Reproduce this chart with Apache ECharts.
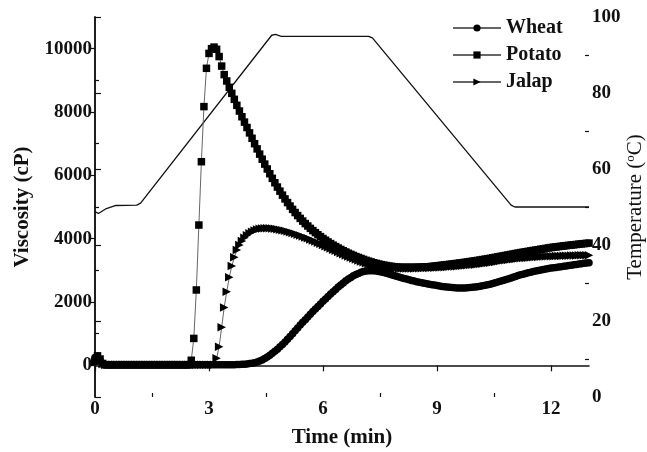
<!DOCTYPE html>
<html><head><meta charset="utf-8">
<script src="https://cdn.jsdelivr.net/npm/echarts@6/dist/echarts.min.js"></script>
<style>html,body{margin:0;padding:0;background:#fff}#c{width:647px;height:452px}</style>
</head><body><div id="c"></div>
<script>
// sampling times (seconds), one reading every 4 s
const timeSec = [
0,4,8,12,16,20,24,28,32,36,40,44,48,52,56,
60,64,68,72,76,80,84,88,92,96,100,104,108,112,116,
120,124,128,132,136,140,144,148,152,156,160,164,168,172,176,
180,184,188,192,196,200,204,208,212,216,220,224,228,232,236,
240,244,248,252,256,260,264,268,272,276,280,284,288,292,296,
300,304,308,312,316,320,324,328,332,336,340,344,348,352,356,
360,364,368,372,376,380,384,388,392,396,400,404,408,412,416,
420,424,428,432,436,440,444,448,452,456,460,464,468,472,476,
480,484,488,492,496,500,504,508,512,516,520,524,528,532,536,
540,544,548,552,556,560,564,568,572,576,580,584,588,592,596,
600,604,608,612,616,620,624,628,632,636,640,644,648,652,656,
660,664,668,672,676,680,684,688,692,696,700,704,708,712,716,
720,724,728,732,736,740,744,748,752,756,760,764,768,772,776,
780];

const potato = [
150,300,200,60,20,20,20,20,20,20,20,20,20,20,20,
20,20,20,20,20,20,20,20,20,20,20,20,20,20,20,
20,20,20,20,20,20,20,20,160,850,2380,4430,6430,8170,9380,
9850,10000,10050,9980,9750,9450,9180,8980,8780,8590,8400,8210,8030,7850,7680,
7510,7340,7170,7000,6835,6670,6510,6355,6200,6050,5905,5765,5630,5500,5375,
5255,5140,5030,4925,4825,4730,4640,4555,4475,4400,4325,4255,4190,4125,4065,
4005,3950,3895,3845,3795,3750,3705,3660,3620,3580,3540,3505,3470,3435,3405,
3375,3345,3315,3290,3265,3240,3220,3200,3180,3165,3150,3135,3125,3115,3105,
3100,3095,3095,3095,3095,3095,3095,3097,3100,3104,3108,3112,3116,3124,3133,
3142,3152,3161,3170,3180,3190,3200,3210,3220,3230,3242,3253,3265,3277,3288,
3300,3313,3327,3340,3353,3367,3380,3395,3410,3425,3440,3455,3470,3485,3500,
3515,3530,3545,3560,3573,3587,3600,3613,3627,3640,3653,3667,3680,3693,3707,
3720,3730,3740,3750,3760,3770,3780,3789,3798,3807,3817,3826,3835,3843,3852,
3860];

const jalap = [
100,200,120,40,20,20,20,20,20,20,20,20,20,20,20,
20,20,20,20,20,20,20,20,20,20,20,20,20,20,20,
20,20,20,20,20,20,20,20,20,20,20,20,20,20,20,
20,20,20,220,590,1200,1830,2320,2780,3135,3410,3640,3800,3930,4030,
4110,4170,4220,4260,4290,4310,4325,4330,4332,4330,4322,4312,4300,4285,4268,
4250,4228,4205,4180,4153,4127,4100,4070,4040,4010,3977,3943,3910,3873,3837,
3800,3763,3727,3690,3653,3617,3580,3543,3507,3470,3437,3403,3370,3340,3310,
3280,3253,3227,3200,3180,3160,3140,3127,3113,3100,3092,3083,3075,3070,3065,
3060,3060,3060,3060,3060,3060,3060,3062,3065,3067,3070,3072,3075,3079,3083,
3088,3092,3096,3100,3106,3112,3118,3123,3129,3135,3143,3150,3158,3165,3173,
3180,3190,3200,3210,3220,3230,3240,3253,3267,3280,3293,3307,3320,3330,3340,
3350,3360,3370,3380,3387,3393,3400,3407,3413,3420,3424,3428,3433,3437,3441,
3445,3448,3450,3453,3455,3458,3460,3463,3465,3468,3470,3473,3475,3477,3478,
3480];

const wheat = [
250,280,150,40,20,20,20,20,20,20,20,20,20,20,20,
20,20,20,20,20,20,20,20,20,20,20,20,20,20,20,
20,20,20,20,20,20,20,20,20,20,20,20,20,20,20,
20,20,20,20,20,20,20,20,20,20,20,26,30,33,38,
45,55,68,85,108,135,170,215,265,320,380,443,510,583,660,
740,827,913,1000,1090,1180,1270,1357,1443,1530,1613,1697,1780,1860,1940,
2020,2097,2173,2250,2323,2397,2470,2537,2603,2670,2723,2777,2830,2867,2903,
2940,2960,2977,2990,2990,2985,2980,2965,2948,2930,2907,2883,2860,2837,2813,
2790,2768,2745,2723,2700,2680,2660,2642,2625,2608,2592,2575,2560,2546,2533,
2520,2507,2493,2480,2472,2465,2458,2452,2446,2440,2442,2446,2451,2457,2463,
2470,2483,2497,2512,2528,2544,2560,2583,2606,2630,2653,2677,2700,2727,2753,
2780,2807,2833,2860,2880,2900,2920,2940,2960,2980,2995,3010,3025,3040,3055,
3070,3082,3093,3105,3117,3128,3140,3152,3163,3175,3187,3198,3210,3220,3230,
3240];

// temperature profile (min, °C)
const tempTime = [0, 0.09, 0.3, 0.55, 1.1, 1.2, 4.65, 4.75, 4.9, 7.2, 7.3, 10.95, 11.05, 13];
const tempValue = [48.8, 48.3, 49.6, 50.4, 50.5, 51.0, 95.2, 95.4, 94.9, 94.9, 94.5, 50.5, 50.0, 50.0];

// tick labels
const xTicks = [0, 3, 6, 9, 12];
const xMinor = [1.5, 4.5, 7.5, 10.5];
const viscTicks = [0, 2000, 4000, 6000, 8000, 10000];
const viscMinor = [1000, 3000, 5000, 7000, 9000];
const tempTicks = [0, 20, 40, 60, 80, 100];
const tempMinor = [10, 30, 50, 70, 90];

const names = ['Wheat', 'Potato', 'Jalap'];

const FONT = '"Liberation Serif","DejaVu Serif",serif';
const pair = (arr) => arr.map((v, i) => [timeSec[i] / 60, v]);

const axisLine = {show: true, lineStyle: {color: '#111', width: 1.5}};
const lbl = {color: '#111', fontFamily: FONT, fontWeight: 'bold', fontSize: 19, formatter: (v) => String(v)};
const nameStyle = {color: '#111', fontFamily: FONT, fontWeight: 'bold', fontSize: 21};
const tickLine = {color: '#111', width: 1.2};

function markerSeries(name, data, symbol, size, rot) {
  return {
    name, type: 'line', data, xAxisIndex: 0, yAxisIndex: 0,
    symbol, symbolSize: size, symbolRotate: rot || 0, showSymbol: true, showAllSymbol: true,
    itemStyle: {color: '#000'},
    lineStyle: {color: '#666', width: 1},
    animation: false, clip: true, z: 3
  };
}

const chart = echarts.init(document.getElementById('c'), null, {renderer: 'canvas'});
chart.setOption({
  animation: false,
  backgroundColor: '#fff',
  grid: {left: 95, right: 58, top: 17, bottom: 55, containLabel: false, outerBoundsMode: 'none'},
  legend: {
    data: names, orient: 'vertical', left: 447, top: 13,
    itemWidth: 48, itemHeight: 9, itemGap: 7,
    textStyle: {color: '#111', fontFamily: FONT, fontWeight: 'bold', fontSize: 20}
  },
  xAxis: [
    {type: 'value', min: 0, max: 13, interval: 3, position: 'bottom',
     axisLine, splitLine: {show: false},
     axisTick: {show: true, inside: false, length: 6, lineStyle: tickLine, customValues: xTicks},
     axisLabel: Object.assign({margin: 3, customValues: xTicks}, lbl),
     name: 'Time (min)', nameLocation: 'middle', nameGap: 30, nameMoveOverlap: false, nameTextStyle: nameStyle},
    {type: 'value', min: 0, max: 13, interval: 1.5, position: 'bottom',
     axisLine: {show: false}, splitLine: {show: false}, axisLabel: {show: false},
     axisTick: {show: true, inside: true, length: 4, lineStyle: tickLine, customValues: xMinor}}
  ],
  yAxis: [
    {type: 'value', min: -1000, max: 11000, interval: 1000, position: 'left',
     axisLine, splitLine: {show: false},
     axisTick: {show: true, inside: false, length: 6, lineStyle: tickLine, customValues: viscTicks},
     axisLabel: Object.assign({margin: 3, customValues: viscTicks}, lbl),
     name: 'Viscosity (cP)', nameLocation: 'middle', nameGap: 62, nameMoveOverlap: false, nameTextStyle: nameStyle},
    {type: 'value', min: 0, max: 100, interval: 20, position: 'right',
     axisLine, splitLine: {show: false},
     axisTick: {show: true, inside: false, length: 6, lineStyle: tickLine, customValues: tempTicks},
     axisLabel: Object.assign({margin: 3, customValues: tempTicks}, lbl),
     name: 'Temperature ({sup|o}C)', nameLocation: 'middle', nameGap: 35, nameRotate: 90, nameMoveOverlap: false,
     nameTextStyle: {color: '#111', fontFamily: FONT, fontWeight: 'normal', fontSize: 21,
       rich: {sup: {fontFamily: FONT, fontSize: 13, verticalAlign: 'top', padding: [0, 0, 9, 0], color: '#111'}}}},
    {type: 'value', min: -1000, max: 11000, interval: 1000, position: 'left',
     axisLine: {show: false}, splitLine: {show: false}, axisLabel: {show: false},
     axisTick: {show: true, inside: true, length: 4, lineStyle: tickLine, customValues: viscMinor}},
    {type: 'value', min: 0, max: 100, interval: 10, position: 'right',
     axisLine: {show: false}, splitLine: {show: false}, axisLabel: {show: false},
     axisTick: {show: true, inside: true, length: 4, lineStyle: tickLine, customValues: tempMinor}}
  ],
  series: [
    {name: 'Temperature', type: 'line', xAxisIndex: 0, yAxisIndex: 1,
     data: tempTime.map((t, i) => [t, tempValue[i]]),
     showSymbol: false, symbol: 'none', lineStyle: {color: '#111', width: 1.3}, z: 2},
    markerSeries('Wheat', pair(wheat), 'circle', 7.5),
    markerSeries('Potato', pair(potato), 'rect', 7.5),
    markerSeries('Jalap', pair(jalap), 'triangle', 8.5, -90)
  ]
});
</script></body></html>
